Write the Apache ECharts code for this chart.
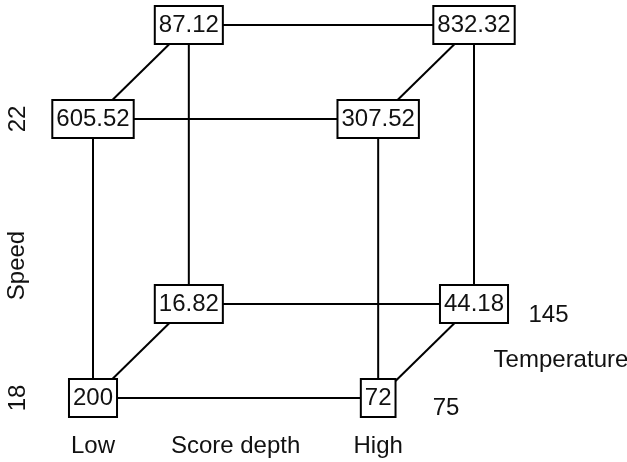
<!DOCTYPE html>
<html>
<head>
<meta charset="utf-8">
<script src="https://cdn.jsdelivr.net/npm/echarts@6/dist/echarts.min.js"></script>
<style>html,body{margin:0;padding:0;background:#fff}#c{width:627px;height:462px}</style>
</head>
<body>
<div id="c"></div>
<script>
// Factor names and level labels
const xName = 'Score depth';
const yName = 'Speed';
const zName = 'Temperature';
const xLevels = ['Low', 'High'];
const yLevels = ['18', '22'];
const zLevels = ['75', '145'];

// Cube corners: factor levels (0 = low, 1 = high) and response values
const cornerX = [0, 1, 0, 1, 0, 1, 0, 1];
const cornerY = [0, 0, 1, 1, 0, 0, 1, 1];
const cornerZ = [0, 0, 0, 0, 1, 1, 1, 1];
const cornerValues = [200, 72, 605.52, 307.52, 16.82, 44.18, 87.12, 832.32];

// Oblique projection for the depth (Temperature) factor
const DEPTH_X = 0.336, DEPTH_Y = 0.337;
function proj(x, y, z) { return [x + z * DEPTH_X, y + z * DEPTH_Y]; }

const FONT = 'Liberation Sans, Arial, sans-serif';
const FS = 24;
const TXT = '#111';

// Edges: corners differing in exactly one factor
const edgeSeries = [];
for (let i = 0; i < 8; i++) {
  for (let j = i + 1; j < 8; j++) {
    const d = (cornerX[i] !== cornerX[j]) + (cornerY[i] !== cornerY[j]) + (cornerZ[i] !== cornerZ[j]);
    if (d === 1) {
      edgeSeries.push({
        type: 'line', silent: true, clip: false, symbol: 'none', z: 1,
        lineStyle: { color: '#000', width: 2 },
        data: [proj(cornerX[i], cornerY[i], cornerZ[i]), proj(cornerX[j], cornerY[j], cornerZ[j])]
      });
    }
  }
}

const boxData = cornerValues.map((v, i) => ({
  value: proj(cornerX[i], cornerY[i], cornerZ[i]),
  name: String(v)
}));

const zLabelData = [
  { value: proj(1, 0, 0), name: zLevels[0], label: { distance: 54, offset: [0, 10] } },
  { value: proj(1, 0, 1), name: zLevels[1], label: { distance: 54, offset: [0, 11] } },
  { value: proj(1, 0, 0.5), name: zName, label: { distance: 67, offset: [0, 9] } }
];

const nameData = [
  { value: proj(0.5, 0, 0), name: xName, label: { position: 'bottom', distance: 36 } },
  { value: proj(0, 0.5, 0), name: yName, label: { position: 'inside', rotate: 90, offset: [-7, -76] } }
];

const hidden = { itemStyle: { color: 'rgba(0,0,0,0)', opacity: 1 }, symbolSize: 1 };

const chart = echarts.init(document.getElementById('c'), null, { renderer: 'canvas' });
chart.setOption({
  animation: false,
  backgroundColor: '#fff',
  grid: { left: 93, right: 153, top: 25, bottom: 64, containLabel: false, outerBoundsMode: 'none' },
  xAxis: {
    type: 'value', min: 0, max: 1 + DEPTH_X, interval: 1,
    axisLine: { show: false }, axisTick: { show: false }, splitLine: { show: false },
    axisLabel: {
      margin: 36, showMaxLabel: false,
      formatter: v => (v === 0 ? xLevels[0] : v === 1 ? xLevels[1] : ''),
      fontFamily: FONT, fontSize: FS, color: TXT
    }
  },
  yAxis: {
    type: 'value', min: 0, max: 1 + DEPTH_Y, interval: 1,
    axisLine: { show: false }, axisTick: { show: false }, splitLine: { show: false },
    axisLabel: {
      margin: 63, rotate: 90, showMaxLabel: false,
      formatter: v => (v === 0 ? yLevels[0] : v === 1 ? yLevels[1] : ''),
      fontFamily: FONT, fontSize: FS, color: TXT
    }
  },
  series: edgeSeries.concat([
    Object.assign({
      type: 'scatter', silent: true, clip: false, z: 3,
      data: boxData,
      label: {
        show: true, position: 'inside', formatter: p => p.name,
        fontFamily: FONT, fontSize: FS, color: TXT,
        backgroundColor: '#fff', borderColor: '#000', borderWidth: 2,
        padding: [6, 3, 4, 3], lineHeight: 26
      }
    }, hidden),
    Object.assign({
      type: 'scatter', silent: true, clip: false, z: 3,
      data: zLabelData,
      label: { show: true, position: 'right', formatter: p => p.name, fontFamily: FONT, fontSize: FS, color: TXT }
    }, hidden),
    Object.assign({
      type: 'scatter', silent: true, clip: false, z: 3,
      data: nameData,
      label: { show: true, formatter: p => p.name, fontFamily: FONT, fontSize: FS, color: TXT }
    }, hidden)
  ])
});
</script>
</body>
</html>
